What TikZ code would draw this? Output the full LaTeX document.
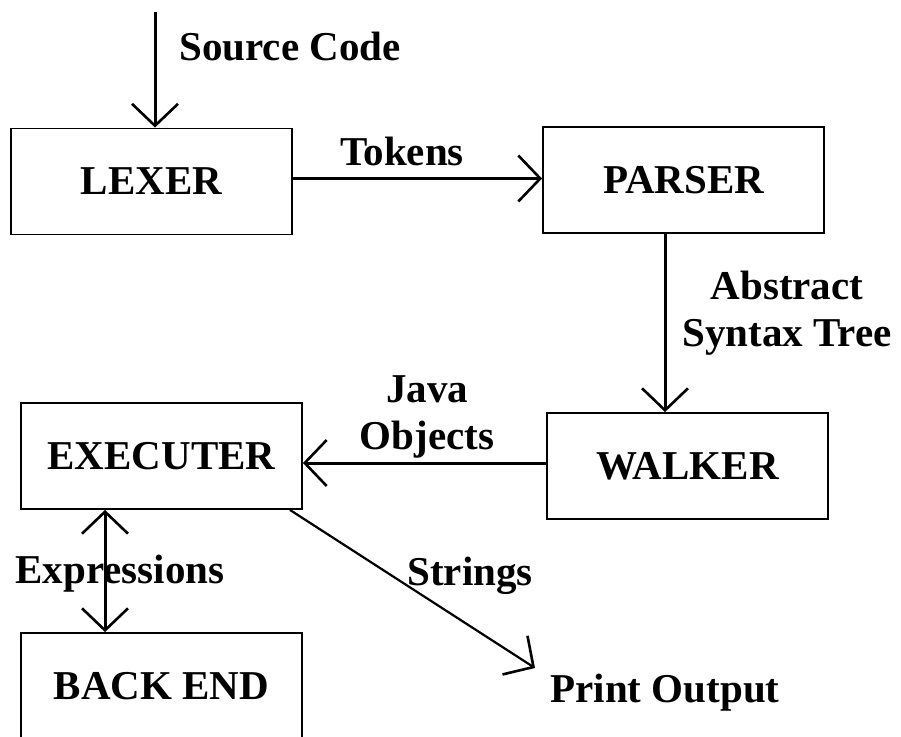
\documentclass[tikz,border=0pt]{standalone}
\usepackage{fontspec}
\setmainfont{Liberation Serif}
\usetikzlibrary{arrows.meta,calc}
\begin{document}
\begin{tikzpicture}[x=1pt,y=-1pt,
  box/.style={draw=black, line width=1.8pt, minimum width=281pt, minimum height=106pt, inner sep=0pt, font=\bfseries\fontsize{41}{47}\selectfont},
  lbl/.style={inner sep=0pt, font=\bfseries\fontsize{41}{47}\selectfont},
  barb/.tip={Straight Barb[length=22pt,width=46pt,line width=2.6pt]},
  conn/.style={line width=3pt, -barb},
]
\useasboundingbox (0,0) rectangle (901,736);
\clip (0,0) rectangle (901,736);
% boxes
\node[box] (lexer) at (151.5,181.5) {LEXER};
\node[box] (parser) at (683.5,180) {PARSER};
\node[box] (walker) at (687.5,466) {WALKER};
\node[box] (executer) at (161.5,456) {EXECUTER};
\node[box] (backend) at (161.5,686) {BACK END};
% labels
\node[lbl, anchor=base] (srclbl) at (290,60) {Source Code};
\node[lbl, anchor=base] (toklbl) at (402,165) {Tokens};
\node[lbl, align=center] (astlbl) at (787,313.5) {Abstract\\Syntax Tree};
\node[lbl, align=center] (javalbl) at (427,416.5) {Java\\Objects};
\node[lbl, anchor=base] (exprlbl) at (120,583) {Expressions};
\node[lbl, anchor=base] (strlbl) at (470,585) {Strings};
\node[lbl, anchor=base] (print) at (665,702) {Print Output};
% free ends
\coordinate (src) at (155,12);
\coordinate (printin) at (535,668);
% connectors
\draw[conn] (src) -- (src |- lexer.north);
\draw[conn] ([yshift=3pt]lexer.east) -- ([yshift=3pt]lexer.east -| parser.west);
\draw[conn] ([xshift=-18.5pt]parser.south) -- ([xshift=-18.5pt]parser.south |- walker.north);
\draw[conn] ([yshift=3pt]walker.west) -- ([yshift=3pt]walker.west -| executer.east);
\draw[conn, barb-barb] ([xshift=-56.5pt]executer.south) -- ([xshift=-56.5pt]executer.south |- backend.north);
\draw[conn, line width=2.2pt] ([xshift=-13pt]executer.south east) -- (printin);
\end{tikzpicture}
\end{document}
